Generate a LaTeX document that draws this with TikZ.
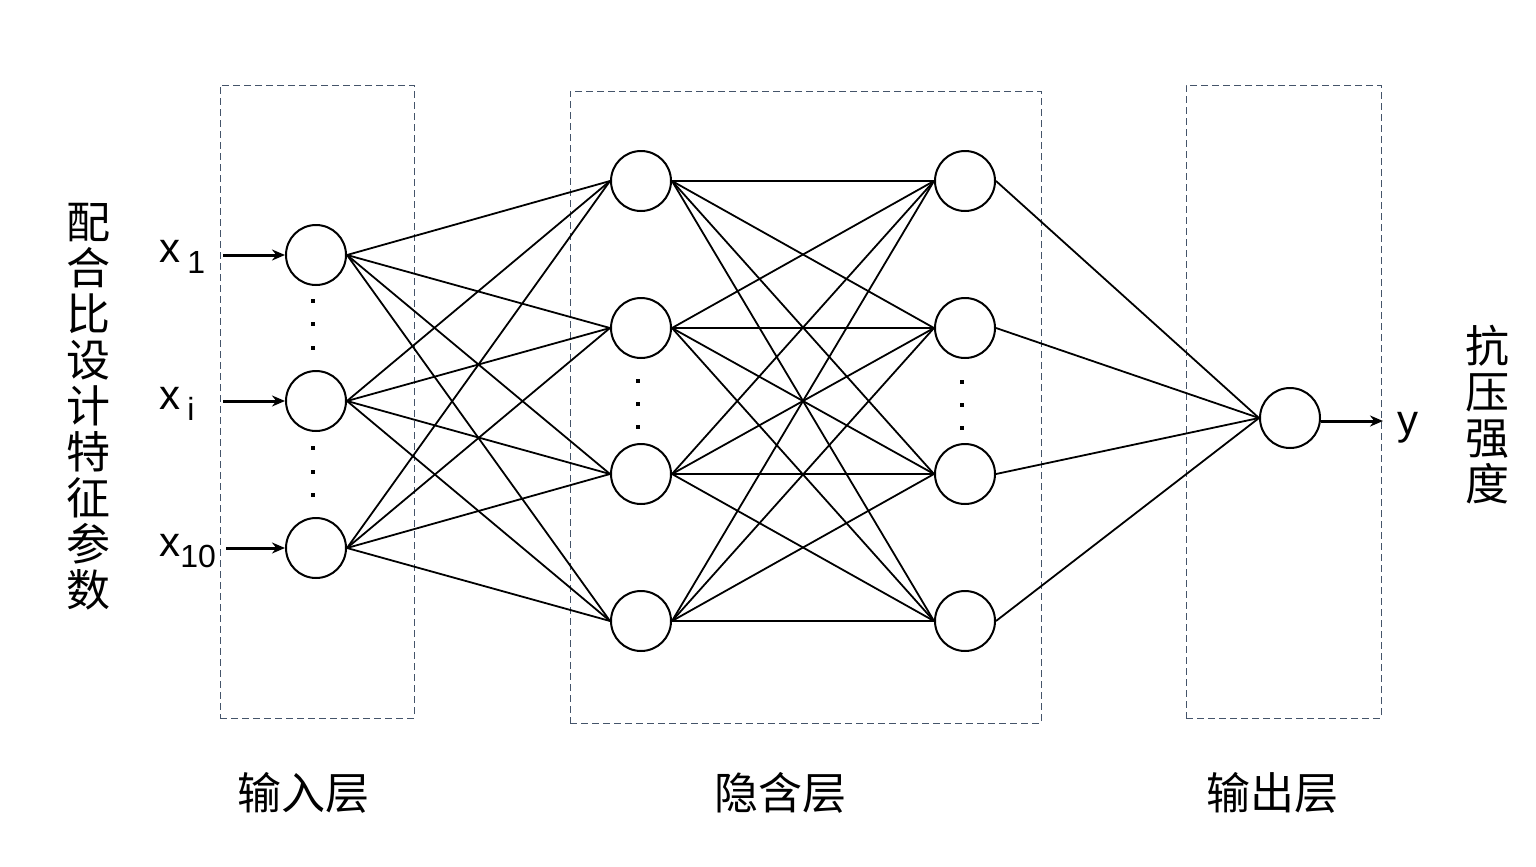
\documentclass[tikz,border=0pt]{standalone}
\usepackage{fontspec}
\setmainfont{Liberation Sans}
\newfontfamily\cjk{Noto Sans CJK SC}
\usetikzlibrary{arrows.meta}
\definecolor{boxc}{RGB}{68,84,106}
\tikzset{
  neuron/.style={circle,draw=black,line width=1pt,minimum size=30pt,inner sep=0pt,fill=white},
  conn/.style={draw=black,line width=0.9pt},
  inarrow/.style={draw=black,line width=1.5pt,-{Stealth[length=6.5pt,width=5.5pt]}},
  layerbox/.style={draw=boxc,line width=0.5pt,dash pattern=on 3.5pt off 2pt},
  cjklabel/.style={font=\cjk\fontsize{22}{23}\selectfont,inner sep=0pt,align=center},
  latin/.style={font=\fontsize{21}{21}\selectfont,inner sep=0pt,anchor=base west},
  dotmark/.style={fill=black,inner sep=0pt,minimum size=2pt,rectangle}
}
\newcommand{\subs}[1]{\raisebox{-5.5pt}{\fontsize{16}{16}\selectfont #1}}
\begin{document}
\begin{tikzpicture}[x=0.5pt,y=-0.5pt]
\useasboundingbox (0,0) rectangle (1536,867);
% layer boxes
\node[layerbox,minimum width=97pt,minimum height=316.5pt,inner sep=0pt] (bin) at (317,401.5) {};
\node[layerbox,minimum width=235.5pt,minimum height=316pt,inner sep=0pt] (bhid) at (805.5,407) {};
\node[layerbox,minimum width=97.5pt,minimum height=316.5pt,inner sep=0pt] (bout) at (1283.5,401.5) {};
\coordinate (pi1) at (316,255);
\coordinate (pi2) at (316,401);
\coordinate (pi3) at (316,548);
\coordinate (ph1) at (641,181);
\coordinate (ph2) at (641,328);
\coordinate (ph3) at (641,474);
\coordinate (ph4) at (641,621);
\coordinate (pg1) at (965,181);
\coordinate (pg2) at (965,328);
\coordinate (pg3) at (965,474);
\coordinate (pg4) at (965,621);
% neurons
\node[neuron] (i1) at (pi1) {};
\node[neuron] (i2) at (pi2) {};
\node[neuron] (i3) at (pi3) {};
\node[neuron] (h1) at (ph1) {};
\node[neuron] (h2) at (ph2) {};
\node[neuron] (h3) at (ph3) {};
\node[neuron] (h4) at (ph4) {};
\node[neuron] (g1) at (pg1) {};
\node[neuron] (g2) at (pg2) {};
\node[neuron] (g3) at (pg3) {};
\node[neuron] (g4) at (pg4) {};
\node[neuron] (o) at (1290,418) {};
\foreach \a in {i1,i2,i3}{\foreach \b in {h1,h2,h3,h4}{\draw[conn] (\a.east) -- (\b.west);}}
\foreach \a in {h1,h2,h3,h4}{\foreach \b in {g1,g2,g3,g4}{\draw[conn] (\a.east) -- (\b.west);}}
\foreach \a in {g1,g2,g3,g4}{\draw[conn] (\a.east) -- (o.west);}
% dots
\foreach \y [count=\k] in {301,324,348,448,472,495}{\node[dotmark] (di\k) at (313,\y) {};}
\foreach \y [count=\k] in {381,404,427}{\node[dotmark] (dh\k) at (638,\y) {};}
\foreach \y [count=\k] in {382,405,428}{\node[dotmark] (dg\k) at (962,\y) {};}
% input arrows
\coordinate (a1) at (223,255);
\coordinate (a2) at (223,401);
\coordinate (a3) at (226,548);
\draw[inarrow] (a1) -- (i1.west);
\draw[inarrow] (a2) -- (i2.west);
\draw[inarrow] (a3) -- (i3.west);
\coordinate (yend) at (1383,421);
\draw[inarrow] (o.east |- yend) -- (yend);
% latin labels
\node[latin] (x1) at (159,262) {x\,\subs{1}};
\node[latin] (xi) at (159,409) {x\,\subs{i}};
\node[latin] (x10) at (159,556) {x\subs{10}};
\node[latin] (y) at (1397,434) {y};
% cjk labels
\node[cjklabel] (lin) at (88,407) {配\\合\\比\\设\\计\\特\\征\\参\\数};
\node[cjklabel] (lout) at (1487,415) {抗\\压\\强\\度};
\node[cjklabel] (t1) at (303,793) {输入层};
\node[cjklabel] (t2) at (780,793) {隐含层};
\node[cjklabel] (t3) at (1272,793) {输出层};
\end{tikzpicture}
\end{document}
